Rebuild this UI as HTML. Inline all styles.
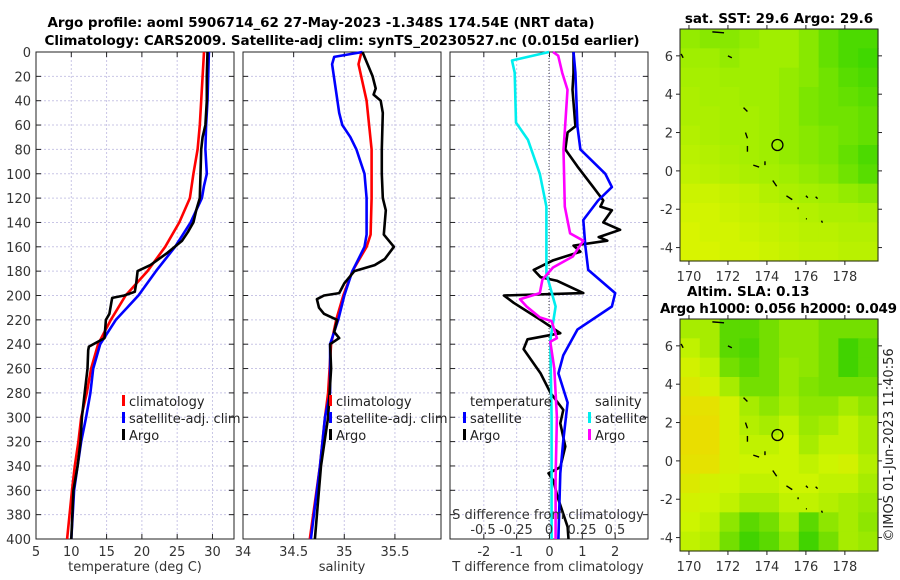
<!DOCTYPE html>
<html><head><meta charset="utf-8"><style>
html,body{margin:0;padding:0;background:#fff}
svg{display:block;font-family:"DejaVu Sans","Liberation Sans",sans-serif}
</style></head><body>
<svg id="fig" width="900" height="580" viewBox="0 0 900 580" xmlns="http://www.w3.org/2000/svg">
<defs><clipPath id="clip1"><rect x="0" y="0" width="241" height="580"/></clipPath></defs>
<text x="321" y="27" font-size="13.5" font-weight="bold" text-anchor="middle" textLength="547">Argo profile: aoml 5906714_62 27-May-2023 -1.348S 174.54E (NRT data)</text>
<text x="342" y="45" font-size="13.5" font-weight="bold" text-anchor="middle" textLength="595">Climatology: CARS2009. Satellite-adj clim: synTS_20230527.nc (0.015d earlier)</text>
<text x="779" y="23" font-size="13.5" font-weight="bold" text-anchor="middle">sat. SST: 29.6 Argo: 29.6</text>
<text x="687" y="296" font-size="13.5" font-weight="bold">Altim. SLA: 0.13</text>
<text x="660" y="313" font-size="13.5" font-weight="bold" textLength="237">Argo h1000: 0.056 h2000: 0.049</text>
<text transform="translate(893,445) rotate(-90)" font-size="13" text-anchor="middle" fill="#222">©IMOS 01-Jun-2023 11:40:56</text>
<g id="layer"></g>
</svg>
<script>
// ---- data ----
const tempClimDepth=[0,20,40,60,80,100,120,140,160,180,200,220,240,260,280,300,320,340,360,400];
const tempClim=[28.8,28.6,28.4,28.2,27.9,27.3,26.8,25.3,23.3,20.8,17.7,15.6,13.8,12.8,12.2,11.4,11.0,10.5,10.1,9.4];
const tempSatDepth=[0,20,40,60,80,100,110,120,140,160,180,200,220,240,260,280,300,320,340,360,400];
const tempSat=[29.5,29.4,29.3,29.1,29.0,29.2,28.8,28.5,26.9,24.7,22.0,19.5,16.3,14.1,13.1,12.7,12.1,11.4,10.9,10.4,10.0];
const tempArgoDepth=[0,20,40,60,70,80,100,120,130,140,148,155,165,175,180,190,197,200,202,205,215,220,235,242,245,260,280,300,320,340,360,400];
const tempArgo=[29.3,29.2,29.2,29.0,28.6,28.4,28.3,28.2,27.7,27.3,26.5,25.7,23.6,21.2,19.4,19.2,19.0,17.5,15.8,15.7,15.4,14.9,14.7,12.5,12.4,12.3,11.9,11.5,11.3,10.9,10.3,10.0];
const salClimDepth=[0,10,40,80,120,150,160,180,200,220,240,280,300,340,400];
const salClim=[35.17,35.14,35.22,35.27,35.27,35.26,35.22,35.08,34.99,34.92,34.87,34.84,34.81,34.76,34.66];
const salSatDepth=[0,4,10,50,60,70,80,100,120,150,160,170,180,190,200,220,240,280,300,340,400];
const salSat=[35.18,34.9,34.88,34.95,34.98,35.06,35.12,35.2,35.22,35.22,35.2,35.14,35.08,35.04,35.0,34.94,34.86,34.86,34.81,34.76,34.67];
const salArgoDepth=[0,10,20,30,35,40,50,80,100,120,130,150,160,170,175,180,190,198,200,203,210,215,220,230,235,240,260,300,340,400];
const salArgo=[35.18,35.23,35.28,35.31,35.29,35.36,35.38,35.37,35.37,35.38,35.41,35.39,35.49,35.4,35.3,35.1,35.0,34.95,34.8,34.73,34.75,34.8,34.93,34.9,34.95,34.86,34.87,34.84,34.77,34.71];
const dSSatDepth=[0,7,17,58,72,100,127,182,209,237,300,400];
const dSSat=[0,-0.28,-0.26,-0.25,-0.16,-0.07,-0.02,-0.02,0.05,0.01,0.02,0.02];
const dSArgoDepth=[0,3,17,31,65,80,127,149,155,168,177,187,198,203,209,218,221,235,238,260,300,350,400];
const dSArgo=[0.03,0.07,0.1,0.14,0.12,0.11,0.12,0.16,0.26,0.18,0.03,-0.05,-0.07,-0.22,-0.17,-0.07,0.02,0.06,0.01,0.04,0.06,0.05,0.05];
const dTArgoDepth=[0,17,31,61,66,80,94,111,122,127,130,140,146,152,155,159,164,171,179,185,188,198,200,206,220,231,236,244,264,280,294,305,324,341,346,352,365,390,400];
const dTArgo=[0.73,0.73,0.7,0.79,0.55,0.48,0.85,1.33,1.64,1.55,1.9,1.64,2.15,1.5,1.76,0.73,0.94,0.12,-0.48,-0.27,0.24,1.03,-1.39,-1.09,-0.27,0.33,-0.67,-0.79,-0.27,0.03,0.42,0.33,0.48,0.33,-0.03,0.12,0.24,0.55,0.58];
const dTSatDepth=[0,17,61,80,100,111,122,138,159,179,198,209,228,249,264,288,319,346,400];
const dTSat=[0.73,0.79,0.85,0.94,1.7,1.9,1.48,1.03,1.09,1.18,2.0,1.9,0.85,0.42,0.27,0.55,0.42,0.33,0.27];
const depthTicks=[0,20,40,60,80,100,120,140,160,180,200,220,240,260,280,300,320,340,360,380,400];
const tempTicks=[5,10,15,20,25,30];
const salTicks=[34,34.5,35,35.5];
const salTickLabels=["34","34.5","35","35.5"];
const dTTicks=[-2,-1,0,1,2];
const dSTicks=[-0.5,-0.25,0,0.25,0.5];
const dSTickLabels=["-0.5","-0.25","0","0.25","0.5"];
const lonTicks=[170,172,174,176,178];
const latTicks=[6,4,2,0,-2,-4];
const sstGrid=[
[.55,.6,.6,.55,.5,.5,.6,.75,.85,.85],
[.5,.5,.55,.5,.5,.5,.6,.75,.85,.9],
[.45,.45,.5,.5,.5,.55,.6,.7,.8,.85],
[.4,.45,.45,.5,.5,.55,.65,.7,.75,.8],
[.4,.4,.45,.45,.5,.55,.65,.7,.7,.75],
[.35,.4,.45,.45,.5,.55,.6,.65,.7,.75],
[.3,.35,.4,.45,.5,.55,.6,.65,.75,.85],
[.25,.3,.35,.4,.45,.5,.55,.6,.7,.8],
[.15,.15,.2,.25,.35,.4,.45,.5,.55,.6],
[.1,.1,.15,.2,.25,.3,.35,.4,.4,.45],
[.05,.1,.1,.15,.2,.25,.3,.3,.35,.35],
[.05,.05,.1,.1,.15,.2,.25,.25,.3,.3]];
const slaGrid=[
[.5,.5,.8,.8,.7,.6,.6,.7,.7,.7],
[.4,.5,.8,.85,.7,.6,.6,.7,.9,.8],
[.3,.4,.7,.8,.7,.55,.6,.7,.9,.8],
[.2,.3,.5,.7,.7,.55,.65,.7,.7,.7],
[.1,.1,.3,.5,.6,.5,.6,.6,.5,.6],
[.05,.05,.3,.45,.5,.4,.55,.5,.4,.5],
[.05,.05,.3,.4,.4,.35,.5,.4,.4,.5],
[.1,.1,.3,.35,.35,.35,.4,.35,.3,.45],
[.2,.3,.35,.4,.4,.35,.35,.4,.4,.5],
[.3,.35,.4,.5,.5,.4,.4,.45,.5,.55],
[.35,.4,.6,.8,.7,.5,.8,.6,.5,.6],
[.4,.45,.7,.9,.8,.6,.9,.7,.5,.55]];
const argoLon=174.54, argoLat=1.35;

// ---- helpers ----
const NS="http://www.w3.org/2000/svg";
const L=document.getElementById('layer');
function mk(tag,at,parent){const e=document.createElementNS(NS,tag);for(const k in at)e.setAttribute(k,at[k]);(parent||L).appendChild(e);return e;}
const Y0=52,Y1=539;
const yD=d=>Y0+d/400*(Y1-Y0);
function panel(name,x0,x1,vmin,vmax){return {name,x0,x1,sx:v=>x0+(v-vmin)/(vmax-vmin)*(x1-x0)};}
const P1=panel('temperature',36,234,5,33.05);
const P2=panel('salinity',243,441,34,35.955);
const P3=panel('difference',450,648,-3.03,3.0);
const sxS=v=>549+v*132;

function frame(P,ticks,labels,showY){
  const g=mk('g',{});
  
  
  ticks.forEach((t,i)=>{const x=P.sx(t);
    if(x>P.x0+1&&x<P.x1-1){const gl=mk('line',{x1:x,x2:x,y1:Y0,y2:Y1,stroke:'#c9c6e6','stroke-width':1,'stroke-dasharray':'2,2'},g);
      }
    mk('line',{x1:x,x2:x,y1:Y0,y2:Y0+5,stroke:'#222'},g);mk('line',{x1:x,x2:x,y1:Y1,y2:Y1-5,stroke:'#222'},g);
    const tl=mk('text',{x:x,y:556,'font-size':13,'text-anchor':'middle',fill:'#333'},g);tl.textContent=labels[i];
    
  });
  depthTicks.forEach(d=>{const y=yD(d);
    if(d>0&&d<400)mk('line',{x1:P.x0,x2:P.x1,y1:y,y2:y,stroke:'#c9c6e6','stroke-width':1,'stroke-dasharray':'2,2'},g);
    mk('line',{x1:P.x0,x2:P.x0+5,y1:y,y2:y,stroke:'#222'},g);mk('line',{x1:P.x1,x2:P.x1-5,y1:y,y2:y,stroke:'#222'},g);
    if(showY){const t=mk('text',{x:31,y:y+5,'font-size':13,'text-anchor':'end',fill:'#333'},g);t.textContent=d;
      }
  });
  const r=mk('rect',{x:P.x0,y:Y0,width:P.x1-P.x0,height:Y1-Y0,fill:'none',stroke:'#222','stroke-width':1},g);
  
}
function line(name,depths,vals,sx,color){
  const d=vals.map((v,i)=>(i?'L':'M')+sx(v).toFixed(1)+','+yD(depths[i]).toFixed(1)).join('');
  const p=mk('path',{d:d,fill:'none',stroke:color,'stroke-width':2.6,'stroke-linejoin':'round'});
  
}
function txt(name,x,y,s,opts){const t=mk('text',Object.assign({x:x,y:y,'font-size':13,fill:'#222'},opts||{}));t.textContent=s;
  return t;}
function legendEntry(name,x,y,color,label,clip){
  const g=mk('g',clip?{'clip-path':'url(#clip1)'}:{});
  mk('rect',{x:x,y:y-11,width:3,height:11,fill:color},g);
  const t=mk('text',{x:x+7,y:y,'font-size':13,fill:'#222'},g);t.textContent=label;
}

frame(P1,tempTicks,tempTicks.map(String),true);
frame(P2,salTicks,salTickLabels,false);
frame(P3,dTTicks,dTTicks.map(String),false);
const zl=mk('line',{x1:549,x2:549,y1:Y0,y2:Y1,stroke:'#444','stroke-dasharray':'1,2'});


line('temp-climatology-line',tempClimDepth,tempClim,P1.sx,'#ff0000');
line('temp-satellite-line',tempSatDepth,tempSat,P1.sx,'#0000ff');
line('temp-argo-line',tempArgoDepth,tempArgo,P1.sx,'#000000');
line('sal-climatology-line',salClimDepth,salClim,P2.sx,'#ff0000');
line('sal-satellite-line',salSatDepth,salSat,P2.sx,'#0000ff');
line('sal-argo-line',salArgoDepth,salArgo,P2.sx,'#000000');
line('dT-argo-line',dTArgoDepth,dTArgo,P3.sx,'#000000');
line('dT-satellite-line',dTSatDepth,dTSat,P3.sx,'#0000ff');
line('dS-satellite-line',dSSatDepth,dSSat,sxS,'#00eeee');
line('dS-argo-line',dSArgoDepth,dSArgo,sxS,'#ff00ff');

txt('temp-x-axis-title',135,571,'temperature (deg C)',{'text-anchor':'middle',fill:'#333'});
txt('sal-x-axis-title',342,571,'salinity',{'text-anchor':'middle',fill:'#333'});
txt('dT-x-axis-title',548,571,'T difference from climatology',{'text-anchor':'middle',fill:'#333'});
txt('dS-axis-title',548,519,'S difference from climatology',{'text-anchor':'middle',fill:'#333'});
dSTicks.forEach((t,i)=>{txt('dS-tick-label',sxS(t),534,dSTickLabels[i],{'text-anchor':'middle',fill:'#333'});});

legendEntry('legend-climatology',122,406,'#ff0000','climatology',true);
legendEntry('legend-satellite-adj',122,423,'#0000ff','satellite-adj. clim',true);
legendEntry('legend-argo',122,440,'#000000','Argo',true);
legendEntry('legend2-climatology',329,406,'#ff0000','climatology');
legendEntry('legend2-satellite-adj',329,423,'#0000ff','satellite-adj. clim');
legendEntry('legend2-argo',329,440,'#000000','Argo');
txt('legend-temperature-heading',470,406,'temperature');
legendEntry('legend-temp-satellite',463,423,'#0000ff','satellite');
legendEntry('legend-temp-argo',463,440,'#000000','Argo');
txt('legend-salinity-heading',595,406,'salinity');
legendEntry('legend-sal-satellite',588,423,'#00eeee','satellite');
legendEntry('legend-sal-argo',588,440,'#ff00ff','Argo');
// ---- maps ----
function mapColor(v,kind){
  let stops = kind==='sst'
    ? [[0,[222,245,0]],[0.5,[160,238,0]],[1,[40,210,0]]]
    : [[0,[238,218,0]],[0.35,[205,245,0]],[1,[40,205,0]]];
  for(let i=1;i<stops.length;i++){if(v<=stops[i][0]){const a=stops[i-1],b=stops[i],f=(v-a[0])/(b[0]-a[0]);
    return 'rgb('+a[1].map((c,j)=>Math.round(c+(b[1][j]-c)*f)).join(',')+')';}}
  return 'rgb(40,205,0)';
}
const LON0=169.54,LON1=179.7,LAT0=7.4,LAT1=-4.7;
function drawMap(name,top,grid,kind){
  const x0=680,x1=878,y0=top,y1=top+232;
  const sx=lon=>x0+(lon-LON0)/(LON1-LON0)*(x1-x0);
  const sy=lat=>y0+(lat-LAT0)/(LAT1-LAT0)*(y1-y0);
  const g=mk('g',{});
  const rows=grid.length,cols=grid[0].length,cw=(x1-x0)/cols,ch=(y1-y0)/rows;
  grid.forEach((row,r)=>row.forEach((v,c)=>{
    const cell=mk('rect',{x:(x0+c*cw).toFixed(2),y:(y0+r*ch).toFixed(2),width:(cw+0.6).toFixed(2),height:(ch+0.6).toFixed(2),fill:mapColor(v,kind)},g);
    
  }));
  const isl=[[171.2,7.25,171.8,7.2],[172.0,6.0,172.2,5.9],[169.6,6.1,169.7,5.9],[172.8,3.3,173.0,3.1],[172.9,2.0,173.0,1.7],[173.0,1.3,173.0,1.0],[173.3,0.3,173.6,0.2],[173.9,0.5,173.9,0.3],[174.3,-0.5,174.5,-0.8],[175.0,-1.3,175.3,-1.5],[175.6,-1.9,175.6,-2.0],[176.0,-1.3,176.1,-1.4],[176.5,-1.35,176.6,-1.45],[176.0,-2.5,176.05,-2.5],[176.8,-2.6,176.85,-2.7]];
  isl.forEach(s=>{mk('path',{d:'M'+sx(s[0])+','+sy(s[1])+'L'+sx(s[2])+','+sy(s[3]),stroke:'#000','stroke-width':1.4,fill:'none'},g);});
  const c=mk('circle',{cx:sx(argoLon),cy:sy(argoLat),r:5.5,fill:'none',stroke:'#000','stroke-width':1.3},g);
  
  mk('rect',{x:x0,y:y0,width:x1-x0,height:y1-y0,fill:'none',stroke:'#222'},g);
  lonTicks.forEach(t=>{const x=sx(t);mk('line',{x1:x,x2:x,y1:y0,y2:y0-4,stroke:'#222'},g);mk('line',{x1:x,x2:x,y1:y1,y2:y1+4,stroke:'#222'},g);
    const tl=mk('text',{x:x,y:y1+20,'font-size':13,'text-anchor':'middle',fill:'#333'},g);tl.textContent=t;});
  latTicks.forEach(t=>{const y=sy(t);mk('line',{x1:x0,x2:x0-4,y1:y,y2:y,stroke:'#222'},g);mk('line',{x1:x1,x2:x1+4,y1:y,y2:y,stroke:'#222'},g);
    const tl=mk('text',{x:673,y:y+5,'font-size':13,'text-anchor':'end',fill:'#333'},g);tl.textContent=t;});
}
drawMap('sst-map',29,sstGrid,'sst');
drawMap('sla-map',319,slaGrid,'sla');
</script>
</body></html>
